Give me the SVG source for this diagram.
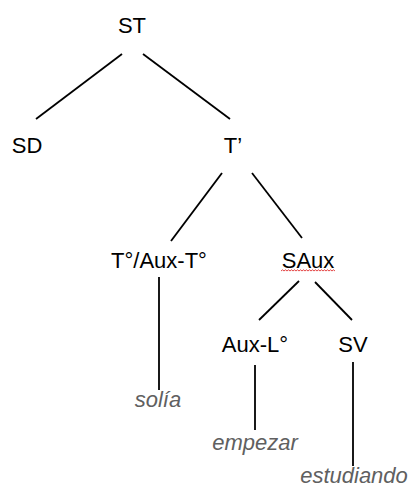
<svg xmlns="http://www.w3.org/2000/svg" width="413" height="488" viewBox="0 0 413 488">
<style>
.lbl{font-family:"Liberation Sans",Arial,Helvetica,sans-serif;font-size:22px;fill:#000;text-anchor:middle}
.word{font-family:"Liberation Sans",Arial,Helvetica,sans-serif;font-size:22px;font-style:italic;fill:#606060;text-anchor:middle}
.edge{stroke:#000;stroke-width:1.8;fill:none;stroke-linecap:butt}
</style>
<rect width="413" height="488" fill="#fff"/>
<g id="connectors">
<line class="edge" x1="122" y1="54" x2="36" y2="119"/>
<line class="edge" x1="143" y1="54" x2="230" y2="119"/>
<line class="edge" x1="222" y1="173" x2="171" y2="241"/>
<line class="edge" x1="252" y1="173" x2="302" y2="238"/>
<line class="edge" x1="159" y1="277" x2="159" y2="390"/>
<line class="edge" x1="299" y1="281" x2="259" y2="320"/>
<line class="edge" x1="315" y1="282" x2="352" y2="320"/>
<line class="edge" x1="255" y1="365" x2="255" y2="430"/>
<line class="edge" x1="353" y1="362" x2="353" y2="466"/>
</g>
<g id="ST"><text class="lbl" x="132" y="33">ST</text></g>
<g id="SD"><text class="lbl" x="27" y="153">SD</text></g>
<g id="Tbar"><text class="lbl" x="233" y="153">T’</text></g>
<g id="T0"><text class="lbl" x="159" y="268">T°/Aux-T°</text></g>
<g id="SAux"><text class="lbl" x="308" y="268">SAux</text>
<path d="M281 271 l1.5 -1.2 l1.5 1.2 l1.5 -1.2 l1.5 1.2 l1.5 -1.2 l1.5 1.2 l1.5 -1.2 l1.5 1.2 l1.5 -1.2 l1.5 1.2 l1.5 -1.2 l1.5 1.2 l1.5 -1.2 l1.5 1.2 l1.5 -1.2 l1.5 1.2 l1.5 -1.2 l1.5 1.2 l1.5 -1.2 l1.5 1.2 l1.5 -1.2 l1.5 1.2 l1.5 -1.2 l1.5 1.2 l1.5 -1.2 l1.5 1.2 l1.5 -1.2 l1.5 1.2 l1.5 -1.2 l1.5 1.2 l1.5 -1.2 l1.5 1.2 l1.5 -1.2 l1.5 1.2 l1.5 -1.2 l1.5 1.2" fill="none" stroke="#e03030" stroke-width="0.9"/></g>
<g id="AuxL"><text class="lbl" x="255" y="352">Aux-L°</text></g>
<g id="SV"><text class="lbl" x="353" y="352">SV</text></g>
<g id="solia"><text class="word" x="158" y="407">solía</text></g>
<g id="empezar"><text class="word" x="255" y="450">empezar</text></g>
<g id="estudiando"><text class="word" x="354" y="483">estudiando</text></g>
</svg>
